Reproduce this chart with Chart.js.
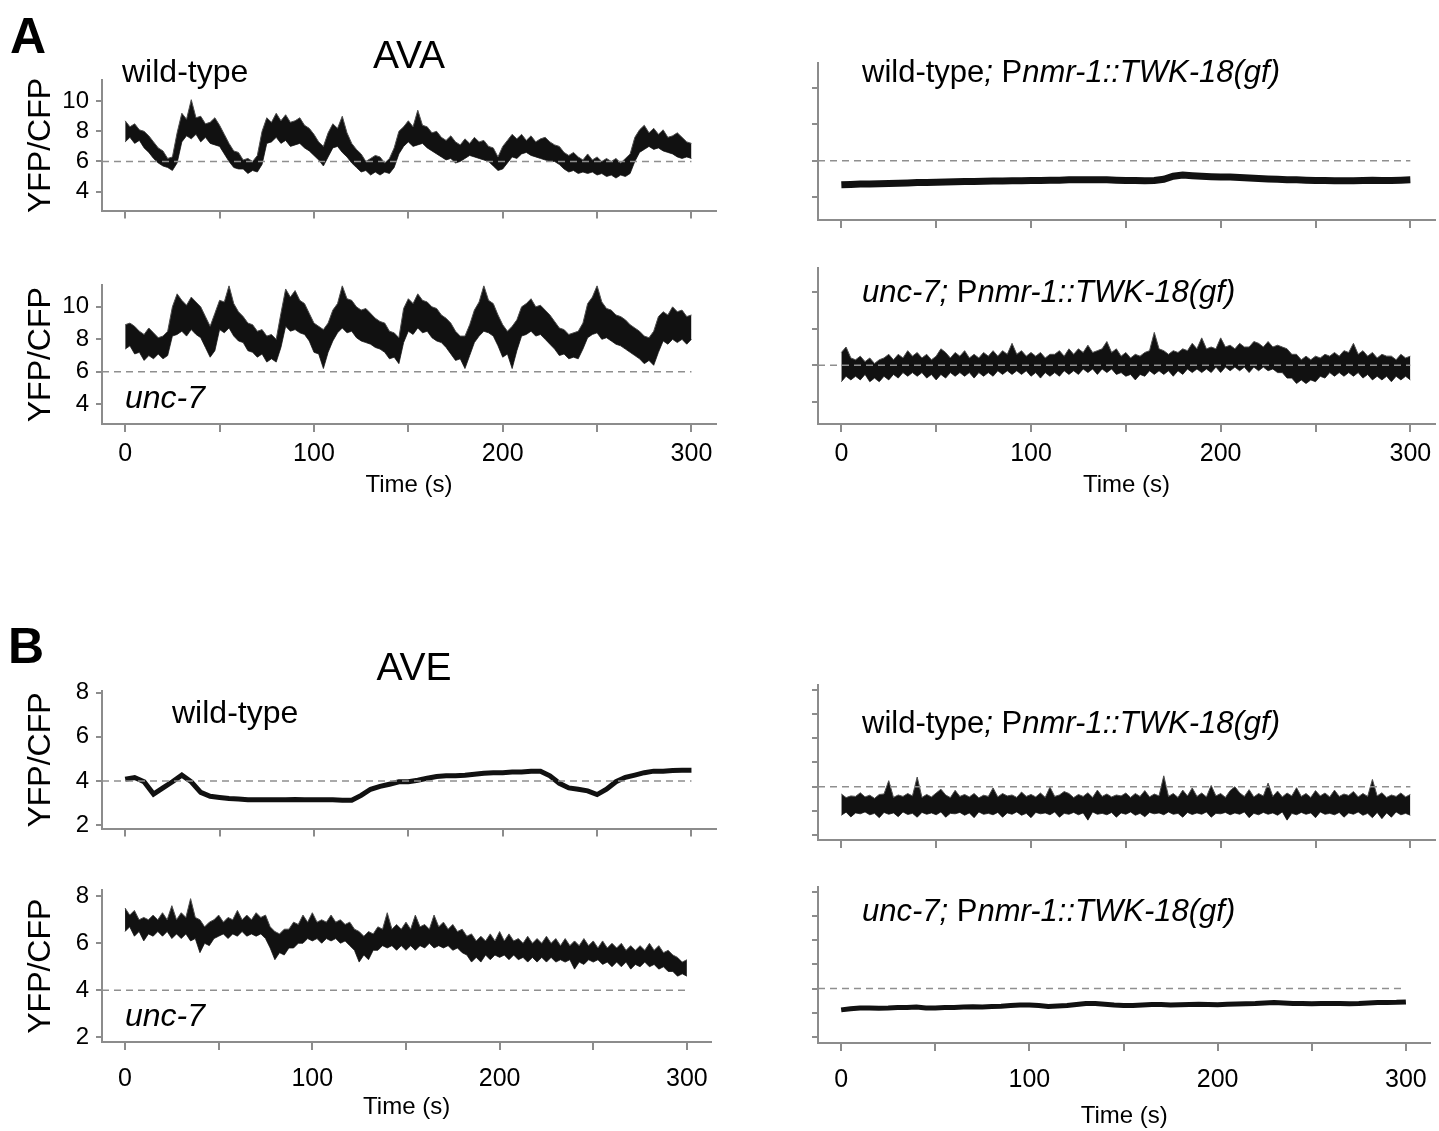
<!DOCTYPE html>
<html>
<head>
<meta charset="utf-8">
<title>AVA / AVE YFP/CFP traces</title>
<script src="https://cdn.jsdelivr.net/npm/chart.js@4.4.1/dist/chart.umd.min.js"></script>
<style>
	body { margin: 0; background: #fff; }
	#fig { position: relative; width: 1439px; height: 1131px; overflow: hidden;
		font-family: 'Liberation Sans', Arial, sans-serif; color: #000; }
	.panel { position: absolute; }
	.panel canvas { display: block; }
	.txt { position: absolute; white-space: nowrap; line-height: 1; transform: translateY(-50%); z-index: 2; }
	.mid { transform: translate(-50%, -50%); }
</style>
</head>
<body>
<div id="fig">
	<div class="txt" style="left:10px;top:36px;font-size:50px;font-weight:bold">A</div>
	<div class="txt mid" style="left:409px;top:54px;font-size:39px">AVA</div>
	<div class="txt" style="left:122px;top:71px;font-size:32px">wild-type</div>
	<div class="txt" style="left:125px;top:397px;font-size:32px"><i>unc-7</i></div>
	<div class="txt" style="left:862px;top:71px;font-size:31px">wild-type<i>; </i>P<i>nmr-1::TWK-18(gf)</i></div>
	<div class="txt" style="left:862px;top:291px;font-size:31px"><i>unc-7;</i> P<i>nmr-1::TWK-18(gf)</i></div>

	<div class="txt" style="left:8px;top:646px;font-size:50px;font-weight:bold">B</div>
	<div class="txt mid" style="left:414px;top:666px;font-size:39px">AVE</div>
	<div class="txt" style="left:172px;top:712px;font-size:32px">wild-type</div>
	<div class="txt" style="left:125px;top:1015px;font-size:32px"><i>unc-7</i></div>
	<div class="txt" style="left:862px;top:722px;font-size:31px">wild-type<i>; </i>P<i>nmr-1::TWK-18(gf)</i></div>
	<div class="txt" style="left:862px;top:910px;font-size:31px"><i>unc-7;</i> P<i>nmr-1::TWK-18(gf)</i></div>
</div>
<script>
// Sample times (s): every 5 s for the smooth traces, every 2.5 s for the noisy ones
const time = [0, 5, 10, 15, 20, 25, 30, 35, 40, 45, 50, 55, 60, 65, 70, 75, 80, 85, 90, 95,
	100, 105, 110, 115, 120, 125, 130, 135, 140, 145, 150, 155, 160, 165, 170, 175, 180, 185, 190, 195,
	200, 205, 210, 215, 220, 225, 230, 235, 240, 245, 250, 255, 260, 265, 270, 275, 280, 285, 290, 295, 300];
const timeFine = [0, 2.5, 5, 7.5, 10, 12.5, 15, 17.5, 20, 22.5, 25, 27.5, 30, 32.5, 35, 37.5, 40, 42.5, 45, 47.5,
	50, 52.5, 55, 57.5, 60, 62.5, 65, 67.5, 70, 72.5, 75, 77.5, 80, 82.5, 85, 87.5, 90, 92.5, 95, 97.5,
	100, 102.5, 105, 107.5, 110, 112.5, 115, 117.5, 120, 122.5, 125, 127.5, 130, 132.5, 135, 137.5, 140, 142.5, 145, 147.5,
	150, 152.5, 155, 157.5, 160, 162.5, 165, 167.5, 170, 172.5, 175, 177.5, 180, 182.5, 185, 187.5, 190, 192.5, 195, 197.5,
	200, 202.5, 205, 207.5, 210, 212.5, 215, 217.5, 220, 222.5, 225, 227.5, 230, 232.5, 235, 237.5, 240, 242.5, 245, 247.5,
	250, 252.5, 255, 257.5, 260, 262.5, 265, 267.5, 270, 272.5, 275, 277.5, 280, 282.5, 285, 287.5, 290, 292.5, 295, 297.5, 300];

// A, AVA wild-type: upper / lower edge of the noisy trace
const wtAvaHi = [8.7, 8.3, 8.5, 8.1, 8.0, 7.7, 7.3, 6.9, 6.7, 6.2,
	6.3, 7.9, 9.2, 8.8, 10.1, 8.9, 9.0, 8.5, 8.6, 8.9,
	8.4, 7.8, 7.2, 6.7, 6.6, 6.1, 6.2, 6.0, 6.4, 8.0,
	8.9, 8.6, 9.2, 8.7, 9.1, 8.6, 8.7, 8.9, 8.4, 8.2,
	7.8, 7.3, 7.0, 7.9, 8.5, 8.2, 9.0, 7.9, 7.2, 6.8,
	6.5, 6.0, 6.2, 6.4, 6.3, 5.9, 6.2, 6.9, 8.0, 8.3,
	8.7, 8.3, 9.4, 8.4, 8.3, 7.9, 8.0, 7.6, 7.4, 7.7,
	7.3, 7.1, 7.5, 7.2, 7.6, 7.3, 7.4, 7.0, 6.9, 6.3,
	7.0, 7.4, 7.8, 7.5, 7.8, 7.4, 7.7, 7.3, 7.5, 7.6,
	7.3, 7.1, 7.0, 6.6, 6.4, 6.6, 6.3, 6.1, 6.5, 6.1,
	6.3, 6.0, 6.2, 6.0, 6.2, 5.9, 6.2, 6.5, 7.6, 8.1,
	8.4, 7.9, 8.2, 7.8, 8.1, 7.6, 7.7, 7.9, 7.6, 7.3, 7.2];
const wtAvaLo = [7.3, 7.6, 7.2, 7.4, 6.9, 6.6, 6.2, 5.9, 5.7, 5.6,
	5.4, 5.9, 7.3, 7.7, 7.5, 7.8, 7.3, 7.6, 7.2, 7.1,
	7.0, 6.5, 6.0, 5.6, 5.5, 5.5, 5.2, 5.4, 5.3, 5.8,
	7.2, 7.3, 7.6, 7.2, 7.4, 7.0, 7.1, 7.2, 6.9, 6.7,
	6.4, 6.1, 5.7, 6.3, 6.9, 7.0, 6.6, 6.3, 5.9, 5.6,
	5.3, 5.4, 5.1, 5.3, 5.1, 5.3, 5.2, 5.6, 6.5, 7.0,
	7.3, 7.0, 7.1, 7.2, 6.9, 6.7, 6.5, 6.3, 6.1, 6.2,
	5.9, 6.0, 6.2, 6.4, 6.3, 6.2, 6.1, 6.0, 5.7, 5.4,
	5.5, 5.9, 6.3, 6.2, 6.5, 6.6, 6.4, 6.3, 6.2, 6.1,
	6.0, 6.0, 5.8, 5.5, 5.3, 5.4, 5.2, 5.3, 5.2, 5.3,
	5.1, 5.2, 5.0, 5.1, 4.9, 5.1, 5.0, 5.2, 6.0, 6.6,
	6.8, 7.0, 6.8, 6.9, 6.7, 6.6, 6.5, 6.3, 6.2, 6.3, 6.2];

// A, AVA unc-7
const unc7AvaHi = [8.9, 9.0, 8.8, 8.5, 8.3, 8.7, 8.4, 8.1, 8.2, 8.5,
	10.0, 10.8, 10.4, 10.1, 10.6, 10.3, 10.0, 9.4, 8.8, 9.6,
	10.4, 10.3, 11.3, 10.2, 9.7, 9.4, 9.0, 8.9, 8.5, 8.6,
	8.2, 8.3, 8.0, 9.6, 11.1, 10.6, 11.0, 10.4, 10.2, 9.6,
	9.0, 8.8, 8.6, 9.0, 9.8, 10.2, 11.3, 10.5, 10.4, 10.0,
	9.8, 9.9, 9.6, 9.3, 9.1, 9.0, 8.5, 8.4, 8.1, 9.9,
	10.5, 10.2, 10.8, 10.4, 10.3, 10.0, 9.9, 9.5, 9.3, 9.0,
	8.5, 8.2, 8.2, 8.9, 9.8, 10.3, 11.3, 10.4, 10.2, 9.5,
	8.9, 8.5, 8.8, 9.2, 10.0, 10.2, 10.5, 10.0, 10.1, 9.8,
	9.5, 9.1, 8.7, 8.6, 8.3, 8.4, 8.5, 9.0, 10.2, 10.6,
	11.3, 10.3, 9.9, 9.8, 9.5, 9.4, 9.2, 8.9, 8.7, 8.5,
	8.2, 8.1, 8.5, 9.4, 9.7, 9.5, 10.0, 9.7, 9.8, 9.4, 9.5];
const unc7AvaLo = [7.4, 7.6, 7.1, 7.2, 6.7, 7.0, 6.8, 7.1, 6.8, 7.0,
	8.2, 8.3, 8.5, 8.2, 8.6, 8.3, 8.1, 7.5, 6.9, 7.3,
	8.6, 8.4, 8.7, 8.2, 7.9, 7.8, 7.3, 7.2, 6.9, 7.1,
	6.6, 6.8, 6.6, 7.5, 8.8, 8.5, 8.6, 8.4, 8.3, 7.9,
	7.2, 7.1, 6.2, 7.2, 7.9, 8.4, 8.7, 8.4, 8.5, 8.1,
	7.9, 7.8, 7.7, 7.5, 7.4, 7.2, 6.8, 6.9, 6.5, 7.8,
	8.5, 8.3, 8.7, 8.4, 8.5, 8.1, 7.9, 7.8, 7.5, 7.1,
	6.7, 6.8, 6.2, 7.0, 7.8, 8.2, 8.5, 8.4, 8.2, 7.6,
	6.9, 7.1, 6.2, 7.3, 8.2, 8.3, 8.5, 8.2, 8.3, 8.0,
	7.7, 7.4, 7.0, 7.1, 6.8, 6.9, 6.8, 7.4, 8.1, 8.3,
	8.4, 8.0, 8.1, 7.9, 7.7, 7.6, 7.4, 7.2, 7.0, 6.8,
	6.5, 6.7, 6.4, 7.2, 7.9, 7.7, 8.0, 7.8, 8.0, 7.7, 8.0];

// A, AVA wild-type; Pnmr-1::TWK-18(gf) (thin trace)
const wtTwkAva = [4.68, 4.7, 4.72, 4.72, 4.74, 4.75, 4.76, 4.78, 4.8, 4.8, 4.82, 4.83, 4.85, 4.86, 4.86, 4.87, 4.88, 4.88, 4.9, 4.9,
	4.92, 4.92, 4.93, 4.93, 4.95, 4.95, 4.96, 4.96, 4.95, 4.93, 4.92, 4.92, 4.9, 4.92, 4.98, 5.15, 5.22, 5.18, 5.15, 5.12,
	5.1, 5.1, 5.08, 5.05, 5.02, 5.0, 4.98, 4.96, 4.95, 4.93, 4.92, 4.92, 4.9, 4.9, 4.9, 4.92, 4.93, 4.92, 4.92, 4.93, 4.95];

// A, AVA unc-7; Pnmr-1::TWK-18(gf)
const unc7TwkAvaHi = [6.7, 7.0, 6.4, 6.3, 6.5, 6.2, 6.4, 6.1, 6.3, 6.4,
	6.6, 6.3, 6.6, 6.4, 6.8, 6.5, 6.7, 6.4, 6.6, 6.3,
	6.5, 6.9, 6.7, 6.4, 6.7, 6.5, 6.8, 6.4, 6.6, 6.4,
	6.7, 6.5, 6.8, 6.5, 6.8, 6.6, 7.2, 6.6, 6.8, 6.5,
	6.7, 6.5, 6.7, 6.4, 6.6, 6.6, 6.8, 6.5, 6.9, 6.6,
	6.9, 6.7, 7.1, 6.7, 6.8, 6.9, 7.3, 6.7, 6.9, 6.5,
	6.7, 6.4, 6.6, 6.5, 6.7, 6.8, 7.8, 6.9, 6.8, 6.6,
	6.8, 6.7, 6.9, 6.8, 7.2, 6.9, 7.5, 6.9, 7.0, 6.9,
	7.5, 7.0, 7.1, 6.9, 7.2, 7.0, 7.0, 7.3, 7.2, 7.0,
	7.3, 7.0, 7.1, 7.0, 6.9, 6.6, 6.6, 6.3, 6.5, 6.3,
	6.5, 6.4, 6.6, 6.5, 6.7, 6.5, 6.8, 6.7, 7.2, 6.6,
	6.8, 6.5, 6.7, 6.4, 6.6, 6.5, 6.5, 6.3, 6.6, 6.4, 6.5];
const unc7TwkAvaLo = [5.1, 5.4, 5.2, 5.4, 5.2, 5.5, 5.1, 5.3, 5.1, 5.4,
	5.2, 5.5, 5.3, 5.6, 5.4, 5.6, 5.4, 5.6, 5.3, 5.5,
	5.2, 5.5, 5.3, 5.6, 5.4, 5.6, 5.4, 5.6, 5.3, 5.6,
	5.4, 5.6, 5.4, 5.7, 5.5, 5.7, 5.5, 5.7, 5.5, 5.7,
	5.4, 5.6, 5.3, 5.6, 5.4, 5.6, 5.4, 5.7, 5.5, 5.7,
	5.5, 5.8, 5.6, 5.8, 5.5, 5.8, 5.6, 5.8, 5.5, 5.6,
	5.4, 5.5, 5.2, 5.5, 5.4, 5.7, 5.5, 5.7, 5.5, 5.7,
	5.4, 5.7, 5.5, 5.8, 5.6, 5.8, 5.6, 5.8, 5.6, 5.9,
	5.6, 5.9, 5.7, 5.9, 5.7, 5.9, 5.6, 5.9, 5.7, 5.9,
	5.7, 5.8, 5.6, 5.6, 5.3, 5.3, 5.0, 5.2, 5.0, 5.2,
	5.1, 5.4, 5.3, 5.6, 5.4, 5.6, 5.4, 5.6, 5.4, 5.6,
	5.3, 5.5, 5.2, 5.4, 5.2, 5.4, 5.1, 5.4, 5.2, 5.4, 5.2];

// B, AVE wild-type (thin trace)
const wtAve = [4.07, 4.15, 3.96, 3.4, 3.68, 3.96, 4.26, 3.96, 3.48, 3.3, 3.25, 3.2, 3.18, 3.15, 3.15, 3.15, 3.15, 3.15, 3.16, 3.15,
	3.15, 3.15, 3.15, 3.12, 3.12, 3.34, 3.62, 3.75, 3.85, 3.96, 3.96, 4.03, 4.12, 4.2, 4.23, 4.23, 4.26, 4.3, 4.34, 4.37,
	4.37, 4.4, 4.4, 4.44, 4.44, 4.23, 3.89, 3.68, 3.62, 3.55, 3.38, 3.62, 3.96, 4.16, 4.26, 4.37, 4.44, 4.44, 4.47, 4.48, 4.48];

// B, AVE unc-7
const unc7AveHi = [7.5, 7.2, 7.4, 7.0, 7.1, 7.0, 7.2, 7.0, 7.3, 7.0,
	7.6, 7.0, 7.3, 7.1, 7.9, 7.1, 7.0, 6.7, 6.9, 7.0,
	7.2, 6.9, 7.1, 7.0, 7.4, 7.0, 7.2, 7.0, 7.3, 7.1,
	7.2, 6.7, 6.5, 6.4, 6.6, 6.6, 6.9, 6.8, 7.2, 6.9,
	7.3, 6.9, 7.0, 6.9, 7.2, 6.9, 7.0, 6.8, 6.9, 6.6,
	6.5, 6.3, 6.5, 6.4, 6.7, 6.6, 7.3, 6.6, 6.8, 6.6,
	6.9, 6.6, 7.2, 6.7, 6.8, 6.6, 7.2, 6.7, 6.9, 6.6,
	6.8, 6.5, 6.6, 6.3, 6.4, 6.1, 6.3, 6.1, 6.4, 6.1,
	6.5, 6.1, 6.4, 6.1, 6.2, 6.0, 6.3, 6.0, 6.2, 6.0,
	6.3, 6.0, 6.2, 5.9, 6.2, 5.9, 6.1, 5.9, 6.2, 5.9,
	6.1, 5.8, 6.1, 5.8, 6.0, 5.8, 6.0, 5.7, 5.9, 5.7,
	5.9, 5.7, 6.0, 5.7, 5.9, 5.6, 5.7, 5.5, 5.4, 5.2, 5.3];
const unc7AveLo = [6.5, 6.7, 6.3, 6.5, 6.1, 6.4, 6.3, 6.5, 6.3, 6.5,
	6.2, 6.4, 6.2, 6.4, 6.1, 6.2, 5.6, 6.0, 5.9, 6.2,
	6.3, 6.4, 6.2, 6.4, 6.3, 6.5, 6.3, 6.4, 6.3, 6.4,
	6.2, 5.8, 5.3, 5.6, 5.5, 5.8, 5.8, 6.0, 6.0, 6.2,
	6.1, 6.2, 6.0, 6.2, 6.1, 6.2, 6.0, 6.1, 5.9, 5.7,
	5.2, 5.5, 5.3, 5.7, 5.7, 5.9, 5.8, 5.9, 5.7, 5.9,
	5.7, 5.9, 5.7, 5.9, 5.8, 6.0, 5.8, 5.9, 5.8, 5.9,
	5.7, 5.8, 5.6, 5.5, 5.2, 5.4, 5.2, 5.5, 5.3, 5.5,
	5.4, 5.5, 5.3, 5.5, 5.3, 5.4, 5.2, 5.4, 5.2, 5.4,
	5.2, 5.4, 5.2, 5.3, 5.2, 5.3, 4.9, 5.2, 5.1, 5.3,
	5.2, 5.3, 5.1, 5.2, 5.0, 5.2, 5.0, 5.2, 4.9, 5.1,
	5.0, 5.2, 5.0, 5.1, 4.9, 5.0, 4.8, 4.8, 4.6, 4.7, 4.6];

// B, AVE wild-type; Pnmr-1::TWK-18(gf)
const wtTwkAveHi = [3.7, 3.55, 3.62, 3.6, 3.75, 3.58, 3.65, 3.52, 3.68, 3.7,
	4.25, 3.56, 3.66, 3.6, 3.72, 3.62, 4.4, 3.56, 3.68, 3.58,
	3.74, 3.9, 3.66, 3.55, 3.85, 3.6, 3.68, 3.58, 3.72, 3.54,
	3.65, 3.6, 3.95, 3.58, 3.72, 3.62, 3.66, 3.56, 3.78, 3.6,
	3.68, 3.58, 3.74, 3.56, 3.98, 3.6, 3.66, 3.8, 3.72, 3.55,
	3.68, 3.6, 3.75, 3.56, 3.86, 3.6, 3.7, 3.58, 3.66, 3.62,
	3.74, 3.56, 3.72, 3.6, 3.84, 3.58, 3.7, 3.62, 4.45, 3.6,
	3.72, 3.56, 3.86, 3.62, 3.95, 3.6, 3.74, 3.58, 4.05, 3.62,
	3.72, 3.56, 3.84, 4.0, 3.75, 3.6, 3.88, 3.58, 3.72, 3.62,
	4.15, 3.6, 3.82, 3.58, 3.74, 3.62, 3.96, 3.6, 3.72, 3.56,
	3.84, 3.62, 3.74, 3.58, 3.86, 3.6, 3.7, 3.64, 3.8, 3.58,
	3.72, 3.6, 4.3, 3.62, 3.75, 3.56, 3.66, 3.6, 3.74, 3.58, 3.68];
const wtTwkAveLo = [2.82, 2.95, 2.75, 2.92, 2.88, 2.96, 2.84, 2.9, 2.72, 2.94,
	2.86, 2.92, 2.76, 2.96, 2.85, 2.9, 2.74, 2.94, 2.86, 2.92,
	2.84, 2.96, 2.74, 2.9, 2.88, 2.94, 2.82, 2.92, 2.72, 2.96,
	2.86, 2.9, 2.84, 2.94, 2.74, 2.92, 2.86, 2.96, 2.82, 2.9,
	2.72, 2.94, 2.88, 2.92, 2.84, 2.96, 2.74, 2.9, 2.86, 2.94,
	2.84, 2.92, 2.62, 2.96, 2.86, 2.9, 2.84, 2.94, 2.74, 2.92,
	2.86, 2.96, 2.82, 2.9, 2.76, 2.94, 2.88, 2.92, 2.84, 2.96,
	2.86, 2.9, 2.74, 2.94, 2.85, 2.92, 2.86, 2.96, 2.74, 2.9,
	2.88, 2.94, 2.84, 2.92, 2.86, 2.96, 2.72, 2.9, 2.84, 2.94,
	2.86, 2.92, 2.82, 2.96, 2.62, 2.9, 2.84, 2.94, 2.86, 2.92,
	2.72, 2.96, 2.86, 2.9, 2.84, 2.94, 2.74, 2.92, 2.86, 2.96,
	2.82, 2.9, 2.72, 2.94, 2.68, 2.92, 2.74, 2.96, 2.84, 2.9, 2.82];

// B, AVE unc-7; Pnmr-1::TWK-18(gf) (thin trace)
const unc7TwkAve = [3.12, 3.17, 3.2, 3.2, 3.19, 3.2, 3.22, 3.22, 3.24, 3.2, 3.2, 3.22, 3.22, 3.24, 3.25, 3.24, 3.26, 3.27, 3.3, 3.32,
	3.32, 3.3, 3.26, 3.28, 3.3, 3.34, 3.38, 3.38, 3.35, 3.32, 3.3, 3.3, 3.32, 3.34, 3.34, 3.32, 3.33, 3.34, 3.35, 3.34,
	3.33, 3.35, 3.36, 3.37, 3.38, 3.4, 3.42, 3.4, 3.38, 3.38, 3.37, 3.38, 3.38, 3.38, 3.37, 3.38, 3.4, 3.42, 3.42, 3.43, 3.45];

// Axis ticks
const xTicks = [0, 50, 100, 150, 200, 250, 300];
const xLabels = [0, 100, 200, 300];
const yTicksA = [4, 6, 8, 10];
const yLabelsA = [4, 6, 8, 10];
const yTicksB = [2, 3, 4, 5, 6, 7, 8];
const yLabelsB = [2, 4, 6, 8];
const baselineA = 6;
const baselineB = 4;

const X_MIN = -12.3;
const X_MAX = 313;
const axisGray = '#8c8c8c';
const traceBlack = '#111';
const edgeGray = '#4d4d4d';

Chart.defaults.font.family = "'Liberation Sans', Arial, sans-serif";
Chart.defaults.color = '#000';

const fig = document.getElementById('fig');

function pts(ys, ts) {
	return ts.map((t, i) => ({ x: t, y: ys[i] }));
}

// noisy trace drawn as a filled band between its upper and lower edge
function band(hi, lo) {
	return [
		{ data: pts(hi, timeFine), fill: '+1', backgroundColor: traceBlack, borderColor: edgeGray, borderWidth: 1, pointRadius: 0 },
		{ data: pts(lo, timeFine), fill: false, borderColor: edgeGray, borderWidth: 1, pointRadius: 0 },
	];
}
function thin(ys, w) {
	return [{ data: pts(ys, time), fill: false, borderColor: traceBlack, borderWidth: w, pointRadius: 0 }];
}
function dashed(v) {
	return {
		data: [{ x: X_MIN, y: v }, { x: time[time.length - 1], y: v }],
		fill: false, borderColor: '#8f8f8f', borderDash: [7, 5], borderWidth: 1.5, pointRadius: 0,
	};
}

function makePanel(p) {
	const box = document.createElement('div');
	box.className = 'panel';
	box.style.left = p.left + 'px';
	box.style.top = p.top + 'px';
	const cv = document.createElement('canvas');
	cv.width = p.width;
	cv.height = p.height;
	cv.style.width = p.width + 'px';
	cv.style.height = p.height + 'px';
	box.appendChild(cv);
	fig.appendChild(box);

	new Chart(cv.getContext('2d'), {
		type: 'line',
		data: { datasets: [dashed(p.baseline), ...p.traces] },
		options: {
			responsive: false,
			animation: false,
			events: [],
			layout: { padding: { top: p.padTop, right: 6, left: 0, bottom: 0 } },
			plugins: { legend: { display: false }, tooltip: { enabled: false } },
			scales: {
				x: {
					type: 'linear',
					min: X_MIN,
					max: X_MAX,
					afterBuildTicks: (s) => { s.ticks = xTicks.map((v) => ({ value: v })); },
					afterFit: (s) => { s.height = p.xH; },
					grid: { drawOnChartArea: false, tickLength: 8, color: axisGray, lineWidth: 2 },
					border: { color: axisGray, width: 2 },
					ticks: {
						display: p.xText,
						padding: p.xPad || 7,
						font: { size: 25 },
						maxRotation: 0,
						autoSkip: false,
						callback: (v) => (xLabels.includes(v) ? String(v) : ''),
					},
					title: { display: p.xText, text: 'Time (s)', font: { size: 24 }, padding: { top: 0, bottom: 4 } },
				},
				y: {
					type: 'linear',
					min: p.yMin,
					max: p.yMax,
					afterBuildTicks: (s) => { s.ticks = p.yTicks.map((v) => ({ value: v })); },
					afterFit: (s) => { s.width = p.yW; },
					grid: { drawOnChartArea: false, tickLength: 6, color: axisGray, lineWidth: 2 },
					border: { color: axisGray, width: 2 },
					ticks: {
						display: p.yText,
						padding: 7,
						font: { size: 24 },
						callback: (v) => (p.yLabels.includes(v) ? String(v) : ''),
					},
					title: { display: p.yText, text: 'YFP/CFP', font: { size: 32 }, padding: { top: 0, bottom: 0 } },
				},
			},
		},
	});
}

// Panel A
makePanel({ left: 22, top: 59, width: 700, height: 173, padTop: 4, xH: 12, yW: 80, xText: false, yText: true,
	yMin: 2.74, yMax: 11.38, yTicks: yTicksA, yLabels: yLabelsA, baseline: baselineA, traces: band(wtAvaHi, wtAvaLo) });
makePanel({ left: 22, top: 264, width: 700, height: 240, padTop: 4, xH: 80, yW: 80, xText: true, yText: true,
	yMin: 2.79, yMax: 11.32, yTicks: yTicksA, yLabels: yLabelsA, baseline: baselineA, traces: band(unc7AvaHi, unc7AvaLo) });
makePanel({ left: 804, top: 59, width: 637, height: 173, padTop: 4, xH: 12, yW: 14, xText: false, yText: false,
	yMin: 2.74, yMax: 11.38, yTicks: yTicksA, yLabels: [], baseline: baselineA, traces: thin(wtTwkAva, 7) });
makePanel({ left: 804, top: 264, width: 637, height: 240, padTop: 4, xH: 80, yW: 14, xText: true, yText: false,
	yMin: 2.79, yMax: 11.32, yTicks: yTicksA, yLabels: [], baseline: baselineA, traces: band(unc7TwkAvaHi, unc7TwkAvaLo) });

// Panel B
makePanel({ left: 22, top: 670, width: 700, height: 180, padTop: 16, xH: 12, yW: 80, xText: false, yText: true,
	yMin: 1.84, yMax: 8.05, yTicks: yTicksB, yLabels: yLabelsB, baseline: baselineB, traces: thin(wtAve, 5) });
makePanel({ left: 22, top: 869, width: 700, height: 257, padTop: 16, xH: 84, xPad: 14, yW: 80, xText: true, yText: true,
	yMin: 1.8, yMax: 8.25, yTicks: yTicksB, yLabels: yLabelsB, baseline: baselineB, traces: band(unc7AveHi, unc7AveLo) });
makePanel({ left: 804, top: 669, width: 637, height: 183, padTop: 16, xH: 12, yW: 14, xText: false, yText: false,
	yMin: 1.8, yMax: 8.2, yTicks: yTicksB, yLabels: [], baseline: baselineB, traces: band(wtTwkAveHi, wtTwkAveLo) });
makePanel({ left: 804, top: 871, width: 637, height: 264, padTop: 16, xH: 92, xPad: 14, yW: 14, xText: true, yText: false,
	yMin: 1.75, yMax: 8.2, yTicks: yTicksB, yLabels: [], baseline: baselineB, traces: thin(unc7TwkAve, 5) });
</script>
</body>
</html>
